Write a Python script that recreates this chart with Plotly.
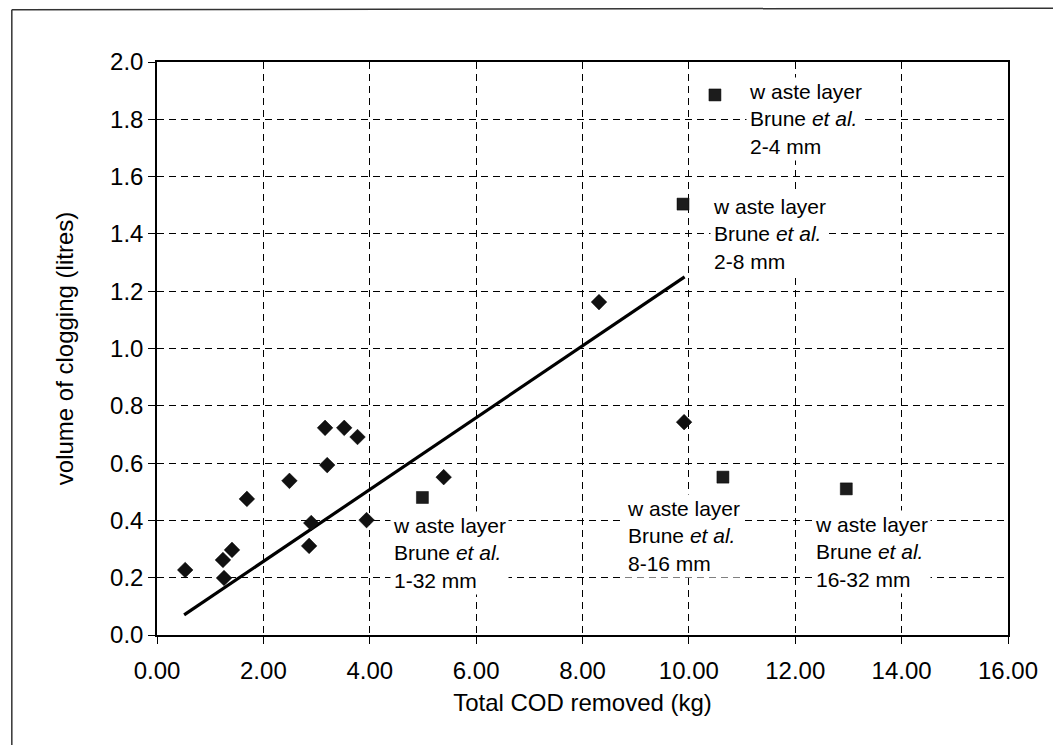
import plotly.graph_objects as go

# Measured clogging volume vs. total COD removed
cod_removed = [0.53, 1.26, 1.24, 1.41, 1.69, 2.49, 3.16, 3.52, 3.77, 3.20,
               2.90, 2.86, 3.94, 5.39, 8.31, 9.91]
clog_volume = [0.227, 0.199, 0.262, 0.297, 0.475, 0.538, 0.723, 0.723, 0.691,
               0.593, 0.391, 0.311, 0.401, 0.551, 1.162, 0.743]

# Brune et al. waste layer results by grain size
brune_cod = [4.99, 10.49, 9.89, 10.64, 12.96]
brune_volume = [0.48, 1.885, 1.504, 0.551, 0.51]
brune_sizes = ["1-32 mm", "2-4 mm", "2-8 mm", "8-16 mm", "16-32 mm"]
# label anchor (left edge, middle) for each Brune point
label_x = [4.39, 11.07, 10.40, 8.78, 12.32]
label_y = [0.286, 1.80, 1.40, 0.345, 0.29]

# Linear trend line end points
trend_x = [0.51, 9.92]
trend_y = [0.07, 1.25]

x_ticks = [0, 2, 4, 6, 8, 10, 12, 14, 16]
x_tick_text = ["%.2f" % v for v in x_ticks]
y_ticks = [0.0, 0.2, 0.4, 0.6, 0.8, 1.0, 1.2, 1.4, 1.6, 1.8, 2.0]
y_tick_text = ["%.1f" % v for v in y_ticks]

FONT = "Liberation Sans, Arial, sans-serif"

fig = go.Figure()

fig.add_trace(go.Scatter(
    x=trend_x, y=trend_y, mode="lines",
    line=dict(color="black", width=3.2),
    showlegend=False, hoverinfo="skip",
))
fig.add_trace(go.Scatter(
    x=cod_removed, y=clog_volume, mode="markers",
    marker=dict(symbol="diamond", size=12, color="#111111",
                line=dict(color="#000000", width=0.5)),
    showlegend=False,
))
fig.add_trace(go.Scatter(
    x=brune_cod, y=brune_volume, mode="markers",
    marker=dict(symbol="square", size=12, color="#1c1c1c",
                line=dict(color="#000000", width=0.5)),
    showlegend=False,
))

for lx, ly, size in zip(label_x, label_y, brune_sizes):
    fig.add_annotation(
        x=lx, y=ly, xref="x", yref="y",
        xanchor="left", yanchor="middle", align="left",
        text="w aste layer<br>Brune <i>et al.</i><br>" + size,
        showarrow=False, bgcolor="white", borderpad=2,
        font=dict(family=FONT, size=21, color="black"),
    )

# outer frame (left and top edges)
fig.add_shape(type="line", xref="paper", yref="paper",
              x0=-0.1706, x1=-0.1706, y0=1.091, y1=-0.2,
              line=dict(color="#333333", width=1.5))
fig.add_shape(type="line", xref="paper", yref="paper",
              x0=-0.1706, x1=1.06, y0=1.091, y1=1.094,
              line=dict(color="#333333", width=1.5))

axis_common = dict(
    showgrid=True, gridcolor="black", gridwidth=1, griddash="7px,5px",
    showline=True, linecolor="black", linewidth=1.5, mirror=True,
    ticks="outside", ticklen=7, tickcolor="black", tickwidth=1,
    zeroline=False,
    tickfont=dict(family=FONT, size=24, color="black"),
)

fig.update_xaxes(
    range=[0, 16], tickvals=x_ticks, ticktext=x_tick_text,
    ticklabelstandoff=6,
    title=dict(text="Total COD removed (kg)", standoff=12,
               font=dict(family=FONT, size=24, color="black")),
    **axis_common,
)
fig.update_yaxes(
    range=[0, 2.0], tickvals=y_ticks, ticktext=y_tick_text,
    title=dict(text="volume of clogging (litres)", standoff=30,
               font=dict(family=FONT, size=24, color="black")),
    **axis_common,
)

fig.update_layout(
    width=1053, height=745,
    margin=dict(l=157, r=45, t=62, b=110),
    paper_bgcolor="white", plot_bgcolor="white",
    font=dict(family=FONT, color="black"),
)

fig.write_html("out.html")
